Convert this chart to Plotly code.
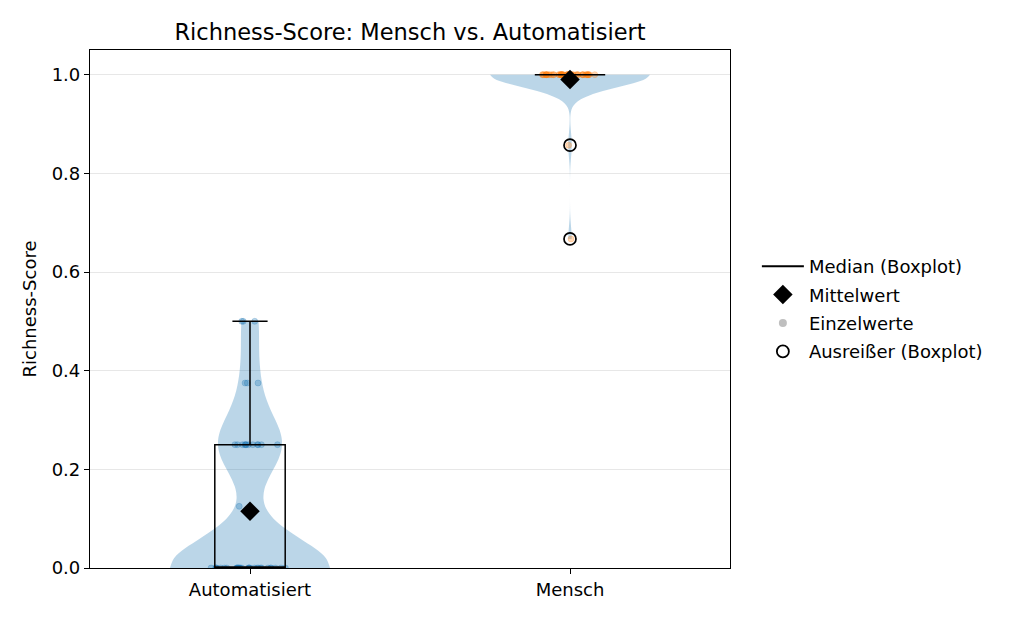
import numpy as np
import plotly.graph_objects as go

# ---- data ----
categories = ["Automatisiert", "Mensch"]

auto_scores = [
    0.0, 0.0, 0.0, 0.0, 0.0, 0.0, 0.0, 0.0, 0.0, 0.0,
    0.0, 0.0, 0.0, 0.0, 0.0, 0.0, 0.0, 0.0, 0.0, 0.0,
    0.0, 0.0, 0.0, 0.0, 0.0, 0.0, 0.0, 0.0, 0.0, 0.0,
    0.0,
    0.125,
    0.25, 0.25, 0.25, 0.25, 0.25, 0.25, 0.25, 0.25, 0.25, 0.25, 0.25, 0.25,
    0.375, 0.375, 0.375,
    0.5, 0.5, 0.5,
]

mensch_scores = [
    1.0, 1.0, 1.0, 1.0, 1.0, 1.0, 1.0, 1.0, 1.0, 1.0,
    1.0, 1.0, 1.0, 1.0, 1.0, 1.0, 1.0, 1.0, 1.0, 1.0,
    1.0, 1.0, 1.0, 1.0, 1.0, 1.0, 1.0, 1.0, 1.0, 1.0,
    1.0, 1.0, 1.0, 1.0, 1.0, 1.0, 1.0, 1.0, 1.0, 1.0,
    1.0, 1.0, 1.0, 1.0, 1.0, 1.0,
    0.857, 0.667,
]

y_ticks = [0.0, 0.2, 0.4, 0.6, 0.8, 1.0]
y_tick_labels = ["0.0", "0.2", "0.4", "0.6", "0.8", "1.0"]

series = [auto_scores, mensch_scores]
point_colors = ["rgba(31,119,180,0.3)", "rgba(255,127,14,0.3)"]
bandwidths = [0.06, 0.025]
jitters = [0.5, 0.35]

FONT = "DejaVu Sans"
fig = go.Figure()

# violins with individual points
for cat, vals, pc, bw, jt in zip(categories, series, point_colors, bandwidths, jitters):
    fig.add_trace(go.Violin(
        x=[cat] * len(vals), y=vals,
        fillcolor="rgba(31,119,180,0.3)",
        line=dict(width=0, color="rgba(31,119,180,0.0)"),
        width=0.5, spanmode="hard", bandwidth=bw,
        points="all", jitter=jt, pointpos=0,
        marker=dict(size=6, color=pc, line=dict(width=0.8, color=pc)),
        scalemode="width",
        box_visible=False, meanline_visible=False,
        showlegend=False, hoverinfo="skip",
    ))

# boxplots
for cat, vals in zip(categories, series):
    fig.add_trace(go.Box(
        x=[cat] * len(vals), y=vals,
        fillcolor="rgba(0,0,0,0)",
        line=dict(color="black", width=1.5),
        width=0.22, whiskerwidth=0.5,
        boxpoints="outliers", jitter=0, pointpos=0,
        marker=dict(symbol="circle-open", size=12, color="black",
                    line=dict(width=1.7, color="black")),
        quartilemethod="linear",
        showlegend=False, hoverinfo="skip",
    ))

# legend: median
fig.add_trace(go.Scatter(
    x=[None], y=[None], mode="lines",
    line=dict(color="black", width=2),
    name="Median (Boxplot)", legendgroup="a",
))

# means
means = [float(np.mean(v)) for v in series]
fig.add_trace(go.Scatter(
    x=categories, y=means, mode="markers",
    marker=dict(symbol="diamond", size=15, color="black"),
    name="Mittelwert", hoverinfo="skip", legendgroup="b",
))

fig.add_trace(go.Scatter(
    x=[None], y=[None], mode="markers",
    marker=dict(symbol="circle", size=8, color="rgba(128,128,128,0.5)"),
    name="Einzelwerte", legendgroup="c",
))
fig.add_trace(go.Scatter(
    x=[None], y=[None], mode="markers",
    marker=dict(symbol="circle-open", size=12, color="black",
                line=dict(width=1.8, color="black")),
    name="Ausreißer (Boxplot)", legendgroup="d",
))

# the page shows the figure offset by 8px (body margin); compensate
OFF = 8
fig.update_layout(
    width=1024, height=620,
    paper_bgcolor="white", plot_bgcolor="white",
    font=dict(family=FONT, size=18, color="black"),
    margin=dict(l=90 - OFF, r=294 + OFF, t=50 - OFF, b=52 + OFF),
    title=dict(text="Richness-Score: Mensch vs. Automatisiert",
               x=(90 - OFF + 730 - OFF) / 2 / 1024, xanchor="center",
               y=1 - (32 - OFF) / 620, yanchor="middle", yref="container",
               font=dict(size=22.5, family=FONT)),
    violinmode="overlay", boxmode="overlay",
    legend=dict(x=1.042, xanchor="left", y=0.5, yanchor="middle",
                font=dict(size=18, family=FONT), itemwidth=42,
                traceorder="grouped", tracegroupgap=2,
                bgcolor="rgba(0,0,0,0)", borderwidth=0),
    xaxis=dict(
        type="category", categoryorder="array", categoryarray=categories,
        range=[-0.5, 1.5], showgrid=False, zeroline=False,
        showline=True, linecolor="black", linewidth=1.2, mirror=True,
        ticks="outside", ticklen=5, tickcolor="black", tickwidth=1.2,
        tickfont=dict(size=18),
    ),
    yaxis=dict(
        range=[0, 1.05], tickvals=y_ticks, ticktext=y_tick_labels,
        showgrid=True, gridcolor="rgba(176,176,176,0.3)", gridwidth=1,
        zeroline=False,
        showline=True, linecolor="black", linewidth=1.2, mirror=True,
        ticks="outside", ticklen=5, tickcolor="black", tickwidth=1.2,
        tickfont=dict(size=18),
        title=dict(text="Richness-Score", font=dict(size=18), standoff=10),
    ),
)

fig.write_html("out.html")
